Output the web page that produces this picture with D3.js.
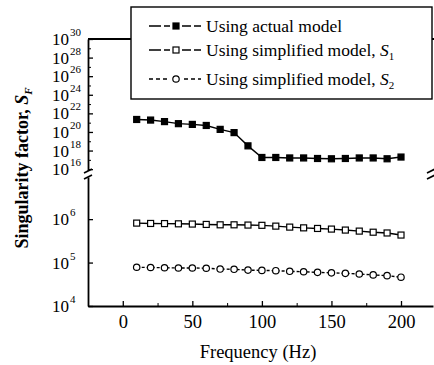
<!DOCTYPE html>
<html>
<head>
<meta charset="utf-8">
<script src="https://cdn.jsdelivr.net/npm/d3@7"></script>
<style>
    body { margin: 0; background: white; }
</style>
</head>
<body>
<div id="bigdiv"></div>
<script>
// frequency points (Hz)
let freq = [10, 20, 30, 40, 50, 60, 70, 80, 90, 100, 110, 120, 130, 140, 150, 160, 170, 180, 190, 200]

// singularity factor, actual model (upper, broken part of the axis)
let actualModel = [2.2e21, 1.9e21, 1.3e21, 7.8e20, 6.5e20, 5.0e20, 1.9e20, 8.5e19, 3.2e18, 1.8e17,
                   1.8e17, 1.6e17, 1.6e17, 1.4e17, 1.3e17, 1.4e17, 1.6e17, 1.6e17, 1.3e17, 2.0e17]

// simplified model S1 and S2 (lower part of the axis)
let simpleS1 = [8.1e5, 7.95e5, 7.9e5, 7.8e5, 7.7e5, 7.55e5, 7.4e5, 7.4e5, 7.3e5, 7.2e5,
                6.9e5, 6.55e5, 6.3e5, 6.1e5, 5.9e5, 5.6e5, 5.3e5, 5.0e5, 4.8e5, 4.3e5]
let simpleS2 = [7.8e4, 7.7e4, 7.6e4, 7.5e4, 7.5e4, 7.4e4, 7.1e4, 7.0e4, 6.7e4, 6.6e4,
                6.5e4, 6.3e4, 6.15e4, 5.95e4, 5.8e4, 5.65e4, 5.45e4, 5.2e4, 5.0e4, 4.6e4]

// tick labels
let xTicks = [0, 50, 100, 150, 200]
let xMinorTicks = [25, 75, 125, 175]
let topExps = [16, 18, 20, 22, 24, 26, 28, 30]
let topMinorExps = [17, 19, 21, 23, 25, 27, 29]
let botExps = [4, 5, 6]

let FONT = "'Liberation Serif', 'DejaVu Serif', serif"
let W = 434, H = 365
let axisLeftX = 88, axisRightX = 433
let topY0 = 39, breakY = 174, botY0 = 306

let svg = d3.select('div#bigdiv').append('svg')
    .attr('width', W).attr('height', H)
    .style('font-family', FONT)

let x = d3.scaleLinear().domain([-25, 223]).range([axisLeftX, axisRightX])
let yTop = d3.scaleLog().domain([Math.pow(10, 15.8), 1e30]).range([breakY - 3, topY0])
let yBot = d3.scaleLog().domain([1e4, Math.pow(10, 6.97)]).range([botY0, breakY + 3])

// ---- axes ----
let gx = svg.append('g').attr('transform', 'translate(0,' + botY0 + ')')
    .call(d3.axisBottom(x).tickValues(xTicks).tickSizeInner(-5).tickSizeOuter(0).tickPadding(7))
gx.attr('font-family', FONT)
gx.select('.domain').attr('stroke-width', 1.8)
gx.selectAll('.tick line').attr('stroke-width', 1.3)
gx.selectAll('.tick text').attr('font-family', FONT).style('font-size', '18.5px').attr('dy', '0.8em')

svg.append('g').attr('transform', 'translate(0,' + botY0 + ')')
    .call(d3.axisBottom(x).tickValues(xMinorTicks).tickSizeInner(-3).tickSizeOuter(0).tickFormat(''))
    .select('.domain').remove()

// top frame line (mostly behind the legend)
svg.append('line')
    .attr('x1', axisLeftX).attr('x2', W)
    .attr('y1', topY0).attr('y2', topY0)
    .attr('stroke', 'black').attr('stroke-width', 1.8)

function drawLogAxis(scale, majors, minors) {
    let g = svg.append('g').attr('transform', 'translate(' + axisLeftX + ',0)')
    g.call(d3.axisLeft(scale).tickValues(majors.map(e => Math.pow(10, e)))
            .tickSizeInner(-5).tickSizeOuter(0).tickFormat(''))
    g.select('.domain').attr('stroke-width', 1.8)
    g.selectAll('.tick line').attr('stroke-width', 1.3)
    if (minors.length) {
        svg.append('g').attr('transform', 'translate(' + axisLeftX + ',0)')
            .call(d3.axisLeft(scale).tickValues(minors.map(e => Math.pow(10, e)))
                .tickSizeInner(-3).tickSizeOuter(0).tickFormat(''))
            .select('.domain').remove()
    }
    // "10" with superscript exponent
    let lab = svg.append('g').attr('font-family', FONT)
    majors.forEach(e => {
        lab.append('text')
            .attr('x', axisLeftX - 19)
            .attr('y', scale(Math.pow(10, e)) + 6)
            .attr('text-anchor', 'end')
            .style('font-size', '17px')
            .text('10')
        lab.append('text')
            .attr('x', axisLeftX - 18)
            .attr('y', scale(Math.pow(10, e)) - 3)
            .style('font-size', '11px')
            .text(e)
    })
}
drawLogAxis(yTop, topExps, topMinorExps)
drawLogAxis(yBot, botExps, [])

// axis break marks
function breakMark(cx) {
    svg.append('rect').attr('x', cx - 5).attr('y', breakY - 3).attr('width', 10).attr('height', 6)
        .attr('fill', 'white')
    ;[-3, 3].forEach(dy => {
        svg.append('line')
            .attr('x1', cx - 4).attr('y1', breakY + dy + 2)
            .attr('x2', cx + 4).attr('y2', breakY + dy - 2)
            .attr('stroke', 'black').attr('stroke-width', 1.6)
    })
}
breakMark(axisLeftX)
breakMark(axisRightX - 2)

// ---- series ----
let series = [
    { vals: actualModel, scale: yTop, marker: 'square', fill: 'black', dash: null },
    { vals: simpleS1, scale: yBot, marker: 'square', fill: 'white', dash: null },
    { vals: simpleS2, scale: yBot, marker: 'circle', fill: 'white', dash: '3,2' }
]

function addMarker(g, s, cx, cy) {
    if (s.marker === 'square') {
        g.append('rect')
            .attr('x', cx - 3).attr('y', cy - 3).attr('width', 6).attr('height', 6)
            .attr('fill', s.fill).attr('stroke', 'black').attr('stroke-width', 1.2)
    } else {
        g.append('circle')
            .attr('cx', cx).attr('cy', cy).attr('r', 3.2)
            .attr('fill', s.fill).attr('stroke', 'black').attr('stroke-width', 1.2)
    }
}

series.forEach(s => {
    let g = svg.append('g')
    let line = d3.line().x((d, i) => x(freq[i])).y(d => s.scale(d))
    g.append('path')
        .datum(s.vals)
        .attr('d', line)
        .attr('fill', 'none')
        .attr('stroke', 'black')
        .attr('stroke-width', 1.4)
        .attr('stroke-dasharray', s.dash)
    s.vals.forEach((v, i) => addMarker(g, s, x(freq[i]), s.scale(v)))
})

// ---- legend ----
let leg = svg.append('g').attr('font-family', FONT)
leg.append('rect')
    .attr('x', 131).attr('y', 7).attr('width', 301).attr('height', 92)
    .attr('fill', 'white').attr('stroke', 'black').attr('stroke-width', 1.4)

let legRows = [
    { y: 26, label: 'Using actual model', sub: null },
    { y: 50, label: 'Using simplified model, ', sub: '1' },
    { y: 79, label: 'Using simplified model, ', sub: '2' }
]
legRows.forEach((r, i) => {
    let s = series[i]
    leg.append('line')
        .attr('x1', 149).attr('x2', 201).attr('y1', r.y).attr('y2', r.y)
        .attr('stroke', 'black').attr('stroke-width', 1.4)
        .attr('stroke-dasharray', i === 2 ? '4,3' : '12,3')
    leg.append('rect').attr('x', 170).attr('y', r.y - 5).attr('width', 12).attr('height', 10).attr('fill', 'white')
    addMarker(leg, s, 176, r.y)
    let t = leg.append('text')
        .attr('x', 206).attr('y', r.y + 6)
        .style('font-size', '17.5px')
        .text(r.label)
    if (r.sub) {
        t.append('tspan').style('font-style', 'italic').text('S')
        t.append('tspan').attr('dy', 4).style('font-size', '11px').text(r.sub)
    }
})

// ---- axis titles ----
svg.append('text')
    .attr('x', 258).attr('y', 358)
    .attr('text-anchor', 'middle')
    .style('font-size', '18.5px')
    .text('Frequency (Hz)')

let yt = svg.append('text')
    .attr('transform', 'translate(28,168) rotate(-90)')
    .attr('text-anchor', 'middle')
    .style('font-size', '18px')
    .style('font-weight', 'bold')
    .text('Singularity factor, ')
yt.append('tspan').style('font-style', 'italic').text('S')
yt.append('tspan').attr('dy', 4).style('font-size', '11px').style('font-style', 'italic').text('F')
</script>
</body>
</html>
